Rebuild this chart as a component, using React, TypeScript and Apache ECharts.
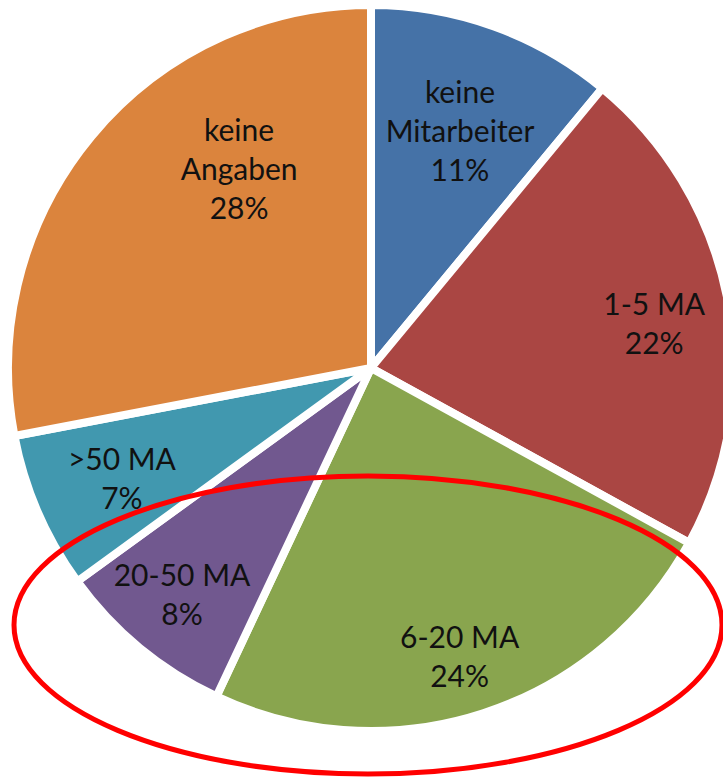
import React, { useEffect, useRef } from "react";
import * as echarts from "echarts";

const categories = ["keine Mitarbeiter", "1-5 MA", "6-20 MA", "20-50 MA", ">50 MA", "keine Angaben"];
const shares = [11, 22, 24, 8, 7, 28];
const colors = ["#4572A7", "#AA4643", "#89A54E", "#71588F", "#4198AF", "#DB843D"];
// label placement: fraction of radius and angular shift (degrees) per slice
const labelRadius = [0.7, 0.79, 0.83, 0.81, 0.75, 0.66];
const labelAngleShift = [0.7, 1.7, 0.9, 0.4, -0.4, 17];

const W = 723;
const H = 777;
const CX = 371;
const CY = 368;
const R = 363;

export default function App() {
  const ref = useRef<HTMLDivElement>(null);
  useEffect(() => {
    document.body.style.margin = "0";
    if (!ref.current) return;
    const chart = echarts.init(ref.current, undefined, { renderer: "svg" });
    const total = shares.reduce((a, b) => a + b, 0);
    const mids: number[] = [];
    let acc = 0;
    shares.forEach((v) => {
      mids.push(((acc + v / 2) / total) * 360);
      acc += v;
    });
    chart.setOption({
      animation: false,
      backgroundColor: "#ffffff",
      series: [
        {
          type: "pie",
          center: [CX, CY],
          radius: [0, R],
          startAngle: 90,
          clockwise: true,
          avoidLabelOverlap: false,
          data: categories.map((c, i) => ({
            name: c,
            value: shares[i],
            itemStyle: { color: colors[i] },
          })),
          itemStyle: { borderColor: "#ffffff", borderWidth: 8 },
          label: {
            show: true,
            position: "inside",
            fontFamily: "Lato",
            fontSize: 30,
            lineHeight: 39,
            color: "#111111",
            align: "center",
            verticalAlign: "middle",
            formatter: (p: any) => {
              const n = p.name.startsWith("keine") ? p.name.replace(" ", "\n") : p.name;
              return n + "\n" + Math.round(p.percent) + "%";
            },
          },
          labelLayout: (p: any) => {
            const i = p.dataIndex;
            const a = ((mids[i] + labelAngleShift[i]) * Math.PI) / 180;
            const r = R * labelRadius[i];
            return { x: CX + r * Math.sin(a), y: CY - r * Math.cos(a), align: "center", verticalAlign: "middle" };
          },
          labelLine: { show: false },
          emphasis: { disabled: true },
        },
      ],
      graphic: [
        {
          type: "ellipse",
          shape: { cx: 368, cy: 625, rx: 354, ry: 149 },
          style: { fill: "none", stroke: "#ff0000", lineWidth: 5 },
          z: 100,
        },
      ],
    });
    return () => chart.dispose();
  }, []);
  return <div ref={ref} style={{ width: W, height: H }} />;
}
